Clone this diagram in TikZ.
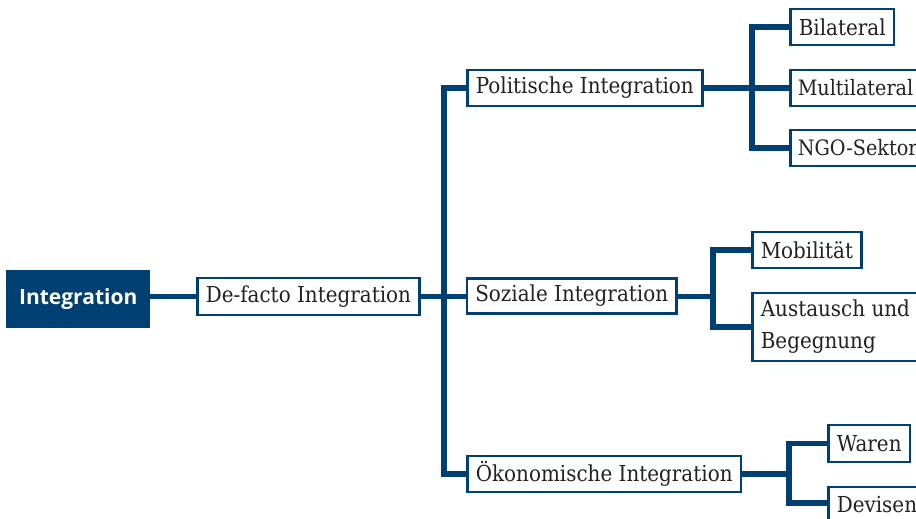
\documentclass[tikz,border=0pt]{standalone}
\usepackage{fontspec}
\setmainfont{DejaVu Serif}[FakeStretch=0.906]
\newfontfamily\boldsans{Open Sans}
\usetikzlibrary{backgrounds}
\definecolor{dblue}{HTML}{003F72}
\definecolor{txt}{HTML}{222222}
\tikzset{
  leaf/.style={draw=dblue, line width=2.6pt, fill=white, text=txt, anchor=west,
    inner xsep=8.5pt, inner ysep=0pt, minimum height=36pt,
    font=\fontsize{22}{32}\selectfont},
  edgeleaf/.style={leaf, inner xsep=7.5pt, font=\fontsize{21.2}{32}\selectfont},
  root/.style={fill=dblue, text=white, anchor=west, inner sep=0pt,
    font=\boldsans\bfseries\fontsize{21}{24}\selectfont},
  conn/.style={draw=dblue, line width=5.2pt, line join=miter},
}
\begin{document}
\begin{tikzpicture}[x=1pt,y=-1pt]
\useasboundingbox (0,0) rectangle (916,519);
\clip (0,0) rectangle (916,519);
\node[root, minimum width=144pt, minimum height=58pt] (int) at (6,299) {Integration};
\node[leaf, minimum height=37pt] (defacto) at (196,296.5) {De-facto Integration};
\node[leaf] (pol) at (466,88) {Politische Integration};
\node[leaf, minimum height=35pt] (soz) at (465.5,296) {Soziale Integration};
\node[leaf] (oek) at (466,474) {Ökonomische Integration};
\node[leaf] (bil) at (789,27) {Bilateral};
\node[edgeleaf] (mul) at (789,88) {Multilateral};
\node[edgeleaf] (ngo) at (789,148) {NGO-Sektor};
\node[leaf] (mob) at (751,250) {Mobilität};
\node[leaf, minimum height=68pt, align=left] (aus) at (751,327) {Austausch und\\Begegnung};
\node[leaf, minimum height=37pt] (war) at (827,443.5) {Waren};
\node[leaf] (dev) at (827,505) {Devisen};
\coordinate (t1) at (444,296.5);
\coordinate (p1) at (752,88);
\coordinate (s1) at (713,296.5);
\coordinate (o1) at (789,474);
\begin{scope}[on background layer]
\draw[conn] (int.east |- defacto.west) -- (defacto.west);
\draw[conn] (defacto.east) -- (t1);
\draw[conn] (soz.west |- t1) -- (t1);
\draw[conn] (pol.west) -| (t1);
\draw[conn] (oek.west) -| (t1);
\draw[conn] (pol.east) -- (mul.west);
\draw[conn] (bil.west) -| (p1);
\draw[conn] (ngo.west) -| (p1);
\draw[conn] (soz.east |- s1) -- (s1);
\draw[conn] (mob.west) -| (s1);
\draw[conn] (aus.west) -| (s1);
\draw[conn] (oek.east) -- (o1);
\draw[conn] (war.west) -| (o1);
\draw[conn] (dev.west |- 0,503) -| (o1);
\end{scope}
\end{tikzpicture}
\end{document}
